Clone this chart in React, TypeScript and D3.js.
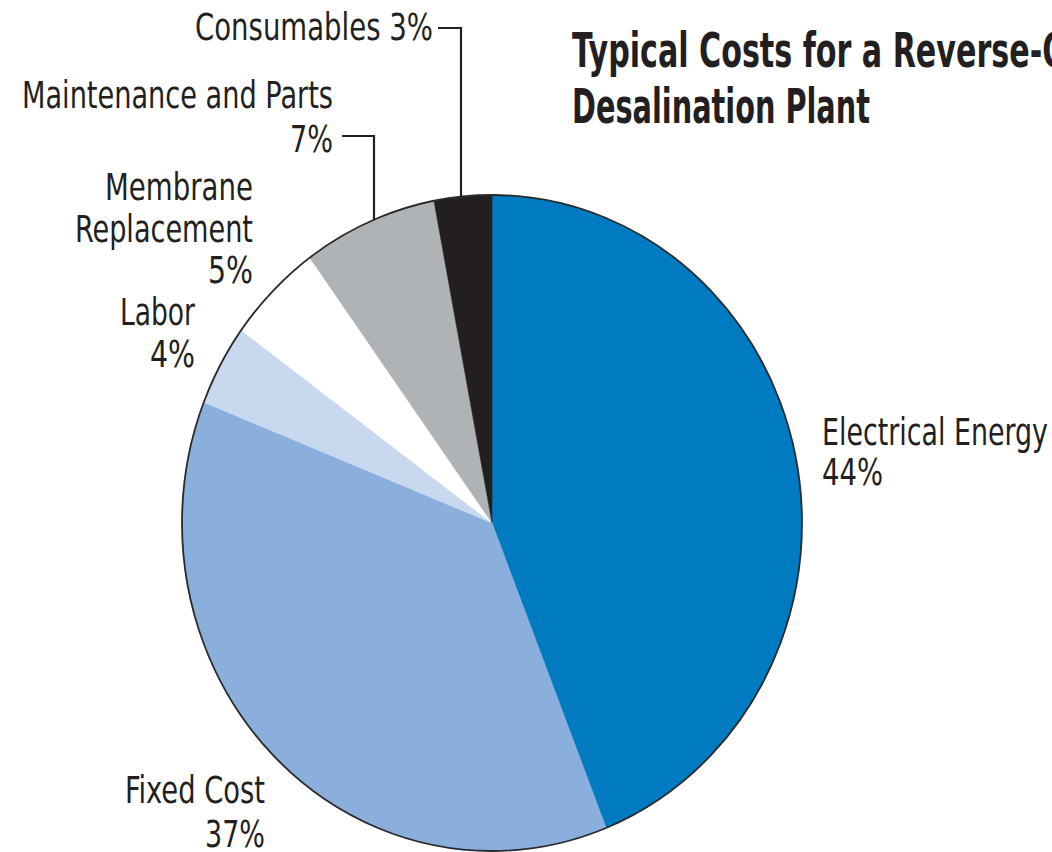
import React from "react";
import * as d3 from "d3";

const categories = [
  "Electrical Energy",
  "Fixed Cost",
  "Labor",
  "Membrane Replacement",
  "Maintenance and Parts",
  "Consumables",
];
const values = [44, 37, 4, 5, 7, 3];
const colors = ["#007bc2", "#8aafdc", "#c8d9ef", "#ffffff", "#b0b3b6", "#231f20"];
const titleLines = ["Typical Costs for a Reverse-Osmosis", "Desalination Plant"];

const W = 1052;
const H = 852;
const CX = 492;
const CY = 523;
const RX = 310;
const RY = 328;
const FONT = "'Liberation Sans Narrow', 'DejaVu Sans Condensed', 'Roboto Condensed', 'Liberation Sans', Arial, sans-serif";
const FS = 37;

type Lab = { lines: string[]; x: number; ys: number[]; ws: number[]; anchor: "start" | "end" };

export default function App() {
  const data = categories.map((c, i) => ({ c, v: values[i], col: colors[i] }));
  const pie = d3.pie<any>().value((d) => d.v).sort(null);
  const arcs = pie(data);
  const arc = d3.arc<any>().innerRadius(0).outerRadius(RX);
  const sy = RY / RX;
  const edgeY = (x: number) => CY - RY * Math.sqrt(1 - ((x - CX) / RX) ** 2);

  const pct = (i: number) => `${values[i]}%`;
  const labels: Lab[] = [
    { lines: [categories[0], pct(0)], x: 822, ys: [445, 485], ws: [226, 61], anchor: "start" },
    { lines: ["Fixed Cost", pct(1)], x: 265, ys: [803, 847], ws: [140, 60], anchor: "end" },
    { lines: ["Labor", pct(2)], x: 195, ys: [325, 367], ws: [75, 45], anchor: "end" },
    { lines: ["Membrane", "Replacement", pct(3)], x: 253, ys: [200, 242, 283], ws: [148, 178, 45], anchor: "end" },
    { lines: [categories[4], pct(4)], x: 333, ys: [108, 152], ws: [311, 43], anchor: "end" },
    { lines: [`${categories[5]} ${pct(5)}`], x: 433, ys: [40], ws: [238], anchor: "end" },
  ];

  const leaders = [
    { x0: 438, y: 28, x1: 461 },
    { x0: 342, y: 136, x1: 374 },
  ];

  return (
    <svg width={W} height={H} style={{ display: "block", position: "absolute", left: 0, top: 0, background: "#fff" }}>
      <rect width={W} height={H} fill="#fff" />
      <g transform={`translate(${CX},${CY}) scale(1,${sy})`}>
        {arcs.map((a, i) => (
          <path key={i} d={arc(a) as string} fill={a.data.col} stroke={a.data.col} strokeWidth={0.5} vectorEffect="non-scaling-stroke" />
        ))}
        <ellipse cx={0} cy={0} rx={RX} ry={RX} fill="none" stroke="#2a2a2a" strokeWidth={1.8} vectorEffect="non-scaling-stroke" />
      </g>
      {leaders.map((l, i) => (
        <path key={i} d={`M${l.x0},${l.y}H${l.x1}V${edgeY(l.x1)}`} fill="none" stroke="#231f20" strokeWidth={2.2} />
      ))}
      {labels.map((lab, i) =>
        lab.lines.map((t, j) => (
          <text
            key={`${i}-${j}`}
            x={lab.anchor === "end" ? lab.x - lab.ws[j] : lab.x}
            y={lab.ys[j]}
            fontFamily={FONT}
            fontSize={FS}
            fill="#231f20"
            textLength={lab.ws[j]}
            lengthAdjust="spacingAndGlyphs"
          >
            {t}
          </text>
        ))
      )}
      <text x={572} y={67} fontFamily={FONT} fontSize={48} fontWeight="bold" fill="#231f20" textLength={612} lengthAdjust="spacingAndGlyphs">
        {titleLines[0]}
      </text>
      <text x={572} y={123} fontFamily={FONT} fontSize={48} fontWeight="bold" fill="#231f20" textLength={298} lengthAdjust="spacingAndGlyphs">
        {titleLines[1]}
      </text>
    </svg>
  );
}
